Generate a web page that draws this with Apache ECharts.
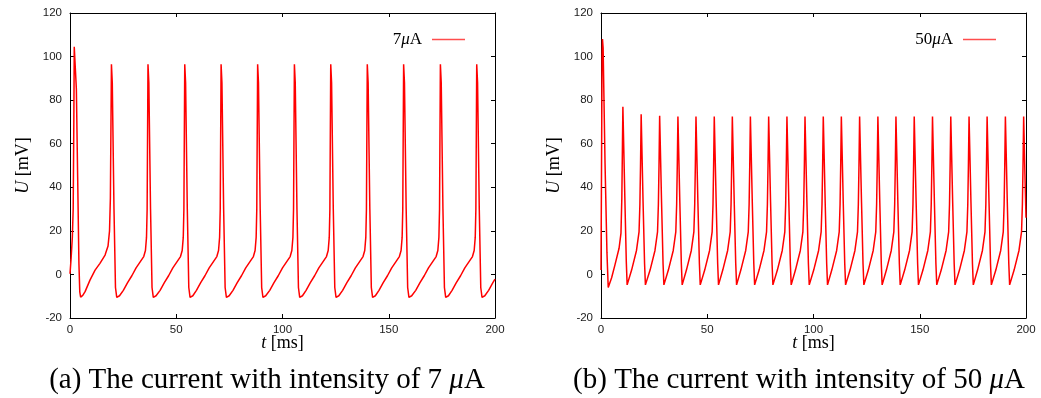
<!DOCTYPE html>
<html>
<head>
<meta charset="utf-8">
<script src="https://cdn.jsdelivr.net/npm/echarts@6/dist/echarts.min.js"></script>
<style>
  html, body { margin: 0; padding: 0; background: #fff; }
  #chart { width: 1041px; height: 398px; }
</style>
</head>
<body>
<div id="chart"></div>
<script>
// membrane potential U [mV] against time t [ms]
const trace7uA = [
  [0,0.3],[0.5,7],[1.1,17],[1.5,30],[1.8,70],[2.0,104.5],[2.6,104.5],[3.0,85],[3.6,45],[4.2,5],[4.6,-8],[5.0,-10.4],
  [6.0,-9.6],[7.1,-7.9],[9.4,-2.6],[11.8,2.0],[14.1,5.1],[16.5,8.9],[17.9,13],[18.6,20],[19.0,35],
  [19.5,96.5],[19.9,88],[20.7,30],[21.4,-6],[22.0,-10.5],[23.3,-9.8],[25.1,-7.3],[27.1,-3.8],[29.1,-0.6],[31.1,3.0],[33.1,5.9],[34.7,8.2],[35.5,11],[36.0,17],[36.3,30],
  [36.7,96.5],[37.1,88],[37.9,30],[38.6,-6],[39.2,-10.5],[40.5,-9.8],[42.4,-7.3],[44.4,-3.8],[46.4,-0.6],[48.4,3.0],[50.4,5.9],[52.0,8.2],[52.8,11],[53.3,17],[53.6,30],
  [54.0,96.5],[54.4,88],[55.2,30],[55.9,-6],[56.5,-10.5],[57.8,-9.8],[59.5,-7.3],[61.5,-3.8],[63.5,-0.6],[65.5,3.0],[67.5,5.9],[69.1,8.2],[69.9,11],[70.4,17],[70.7,30],
  [71.1,96.5],[71.5,88],[72.3,30],[73.0,-6],[73.6,-10.5],[74.9,-9.8],[76.7,-7.3],[78.7,-3.8],[80.7,-0.6],[82.7,3.0],[84.7,5.9],[86.3,8.2],[87.1,11],[87.6,17],[87.9,30],
  [88.3,96.5],[88.7,88],[89.5,30],[90.2,-6],[90.8,-10.5],[92.1,-9.8],[94.0,-7.3],[96.0,-3.8],[98.0,-0.6],[100.0,3.0],[102.0,5.9],[103.6,8.2],[104.4,11],[104.9,17],[105.2,30],
  [105.6,96.5],[106.0,88],[106.8,30],[107.5,-6],[108.1,-10.5],[109.4,-9.8],[111.1,-7.3],[113.1,-3.8],[115.1,-0.6],[117.1,3.0],[119.1,5.9],[120.7,8.2],[121.5,11],[122.0,17],[122.3,30],
  [122.7,96.5],[123.1,88],[123.9,30],[124.6,-6],[125.2,-10.5],[126.5,-9.8],[128.3,-7.3],[130.3,-3.8],[132.3,-0.6],[134.3,3.0],[136.3,5.9],[137.9,8.2],[138.7,11],[139.2,17],[139.5,30],
  [139.9,96.5],[140.3,88],[141.1,30],[141.8,-6],[142.4,-10.5],[143.7,-9.8],[145.4,-7.3],[147.4,-3.8],[149.4,-0.6],[151.4,3.0],[153.4,5.9],[155.0,8.2],[155.8,11],[156.3,17],[156.6,30],
  [157.0,96.5],[157.4,88],[158.2,30],[158.9,-6],[159.5,-10.5],[160.8,-9.8],[162.7,-7.3],[164.7,-3.8],[166.7,-0.6],[168.7,3.0],[170.7,5.9],[172.3,8.2],[173.1,11],[173.6,17],[173.9,30],
  [174.3,96.5],[174.7,88],[175.5,30],[176.2,-6],[176.8,-10.5],[178.1,-9.8],[179.8,-7.3],[181.8,-3.8],[183.8,-0.6],[185.8,3.0],[187.8,5.9],[189.4,8.2],[190.2,11],[190.7,17],[191.0,30],
  [191.4,96.5],[191.8,88],[192.6,30],[193.3,-6],[193.9,-10.5],[195.2,-9.8],[197.0,-7.3],[199.0,-3.8],[200,-2.2]
];

const trace50uA = [
  [0,2],[0.2,40],[0.5,100],[0.7,108],[1.0,104],[1.9,51],[2.8,10],[3.4,-6],
  [5.0,-1.5],[6.6,4.5],[8.5,12],[9.4,19],[9.8,35],[10.1,60],
  [10.3,77],[11.2,36],[11.9,6],[12.3,-4.8],[14.4,2.0],[16.7,11],[17.9,19.5],[18.3,32],[18.6,50],
  [18.9,73.5],[19.8,33],[20.5,5],[20.9,-4.8],[23.1,2.0],[25.4,11],[26.6,19.5],[27.0,32],[27.3,50],
  [27.6,72.8],[28.5,33],[29.2,5],[29.6,-4.8],[31.7,2.0],[34.0,11],[35.2,19.5],[35.6,32],[35.9,50],
  [36.2,72.5],[37.1,33],[37.8,5],[38.2,-4.8],[40.2,2.0],[42.5,11],[43.7,19.5],[44.1,32],[44.4,50],
  [44.7,72.5],[45.6,33],[46.3,5],[46.7,-4.8],[48.8,2.0],[51.1,11],[52.3,19.5],[52.7,32],[53.0,50],
  [53.3,72.5],[54.2,33],[54.9,5],[55.3,-4.8],[57.3,2.0],[59.6,11],[60.8,19.5],[61.2,32],[61.5,50],
  [61.8,72.5],[62.7,33],[63.4,5],[63.8,-4.8],[65.8,2.0],[68.1,11],[69.3,19.5],[69.7,32],[70.0,50],
  [70.3,72.5],[71.2,33],[71.9,5],[72.3,-4.8],[74.4,2.0],[76.7,11],[77.9,19.5],[78.3,32],[78.6,50],
  [78.9,72.5],[79.8,33],[80.5,5],[80.9,-4.8],[83.0,2.0],[85.3,11],[86.5,19.5],[86.9,32],[87.2,50],
  [87.5,72.5],[88.4,33],[89.1,5],[89.5,-4.8],[91.5,2.0],[93.8,11],[95.0,19.5],[95.4,32],[95.7,50],
  [96.0,72.5],[96.9,33],[97.6,5],[98.0,-4.8],[100.1,2.0],[102.4,11],[103.6,19.5],[104.0,32],[104.3,50],
  [104.6,72.5],[105.5,33],[106.2,5],[106.6,-4.8],[108.6,2.0],[110.9,11],[112.1,19.5],[112.5,32],[112.8,50],
  [113.1,72.5],[114.0,33],[114.7,5],[115.1,-4.8],[117.2,2.0],[119.5,11],[120.7,19.5],[121.1,32],[121.4,50],
  [121.7,72.5],[122.6,33],[123.3,5],[123.7,-4.8],[125.8,2.0],[128.1,11],[129.3,19.5],[129.7,32],[130.0,50],
  [130.3,72.5],[131.2,33],[131.9,5],[132.3,-4.8],[134.3,2.0],[136.6,11],[137.8,19.5],[138.2,32],[138.5,50],
  [138.8,72.5],[139.7,33],[140.4,5],[140.8,-4.8],[142.9,2.0],[145.2,11],[146.4,19.5],[146.8,32],[147.1,50],
  [147.4,72.5],[148.3,33],[149.0,5],[149.4,-4.8],[151.5,2.0],[153.8,11],[155.0,19.5],[155.4,32],[155.7,50],
  [156.0,72.5],[156.9,33],[157.6,5],[158.0,-4.8],[160.1,2.0],[162.4,11],[163.6,19.5],[164.0,32],[164.3,50],
  [164.6,72.5],[165.5,33],[166.2,5],[166.6,-4.8],[168.7,2.0],[171.0,11],[172.2,19.5],[172.6,32],[172.9,50],
  [173.2,72.5],[174.1,33],[174.8,5],[175.2,-4.8],[177.2,2.0],[179.5,11],[180.7,19.5],[181.1,32],[181.4,50],
  [181.7,72.5],[182.6,33],[183.3,5],[183.7,-4.8],[185.8,2.0],[188.1,11],[189.3,19.5],[189.7,32],[190.0,50],
  [190.3,72.5],[191.2,33],[191.9,5],[192.3,-4.8],[194.4,2.0],[196.7,11],[197.9,19.5],[198.3,32],[198.6,50],
  [198.9,72.5],[199.5,46],[200,26]
];

const seriesNames = ['7μA', '50μA'];
const legendRich = ['7{m|μ}A', '50{m|μ}A'];
const captions = [
  '(a) The current with intensity of 7 {m|μ}A',
  '(b) The current with intensity of 50 {m|μ}A'
];
const xRange = [0, 200, 50];
const yRange = [-20, 120, 20];

const serif = '"Liberation Serif", "DejaVu Serif", serif';
const sans = '"Liberation Sans", Arial, sans-serif';
const black = '#000';

const grids = [
  { left: 70, right: 546, top: 13, bottom: 80 },
  { left: 601, right: 15, top: 13, bottom: 80 }
];

let xAxes = [];
let yAxes = [];
grids.forEach(function (g, i) {
  // bottom axis with labels, top axis only for the mirrored ticks
  xAxes.push({
    type: 'value', gridIndex: i, min: xRange[0], max: xRange[1], interval: xRange[2],
    name: '{i|t} [ms]', nameLocation: 'middle', nameGap: 16, nameMoveOverlap: false,
    nameTextStyle: { fontFamily: serif, fontSize: 18, color: black, verticalAlign: 'top',
      rich: { i: { fontStyle: 'italic', fontFamily: serif, fontSize: 18, color: black } } },
    axisLine: { onZero: false, lineStyle: { color: black, width: 1 } },
    axisTick: { inside: true, length: 4, lineStyle: { color: black } },
    axisLabel: { fontFamily: sans, fontSize: 11.5, color: '#1a1a1a', margin: 6 },
    splitLine: { show: false }
  });
  xAxes.push({
    type: 'value', gridIndex: i, position: 'top', min: xRange[0], max: xRange[1], interval: xRange[2],
    axisLine: { onZero: false, lineStyle: { color: black, width: 1 } },
    axisTick: { inside: true, length: 4, lineStyle: { color: black } },
    axisLabel: { show: false },
    splitLine: { show: false }
  });
  yAxes.push({
    type: 'value', gridIndex: i, min: yRange[0], max: yRange[1], interval: yRange[2],
    name: '{i|U} [mV]', nameLocation: 'middle', nameGap: 38,
    nameTextStyle: { fontFamily: serif, fontSize: 18, color: black,
      rich: { i: { fontStyle: 'italic', fontFamily: serif, fontSize: 18, color: black } } },
    axisLine: { show: true, onZero: false, lineStyle: { color: black, width: 1 } },
    axisTick: { show: true, inside: true, length: 4, lineStyle: { color: black } },
    axisLabel: { fontFamily: sans, fontSize: 11.5, color: '#1a1a1a', margin: 8 },
    splitLine: { show: false }
  });
  yAxes.push({
    type: 'value', gridIndex: i, position: 'right', min: yRange[0], max: yRange[1], interval: yRange[2],
    axisLine: { show: true, onZero: false, lineStyle: { color: black, width: 1 } },
    axisTick: { show: true, inside: true, length: 4, lineStyle: { color: black } },
    axisLabel: { show: false },
    splitLine: { show: false }
  });
});

const legendRight = [571, 40];
const legends = seriesNames.map(function (n, i) {
  return {
    data: [n], right: legendRight[i], top: 26, align: 'right', orient: 'horizontal',
    icon: 'rect', itemWidth: 33, itemHeight: 1.5,
    itemStyle: { color: '#ff4d4d' },
    formatter: function () { return legendRich[i]; },
    textStyle: { fontFamily: serif, fontSize: 17, color: black, padding: [0, 5, 0, 0],
      rich: { m: { fontStyle: 'italic', fontFamily: serif, fontSize: 17, color: black } } }
  };
});

const captionX = [262, 794];
const titles = captions.map(function (c, i) {
  return {
    text: c, left: captionX[i], top: 361, textAlign: 'center',
    textStyle: { fontFamily: serif, fontSize: 29, fontWeight: 'normal', color: black,
      rich: { m: { fontStyle: 'italic', fontFamily: serif, fontSize: 29, color: black } } }
  };
});

const chart = echarts.init(document.getElementById('chart'), null, { renderer: 'canvas' });
chart.setOption({
  animation: false,
  backgroundColor: '#fff',
  title: titles,
  legend: legends,
  grid: grids,
  xAxis: xAxes,
  yAxis: yAxes,
  series: [
    { name: seriesNames[0], type: 'line', xAxisIndex: 0, yAxisIndex: 0, data: trace7uA,
      symbol: 'none', lineStyle: { color: '#ff0000', width: 1.5 }, itemStyle: { color: '#ff0000' } },
    { name: seriesNames[1], type: 'line', xAxisIndex: 2, yAxisIndex: 2, data: trace50uA,
      symbol: 'none', lineStyle: { color: '#ff0000', width: 1.5 }, itemStyle: { color: '#ff0000' } }
  ]
});
</script>
</body>
</html>
